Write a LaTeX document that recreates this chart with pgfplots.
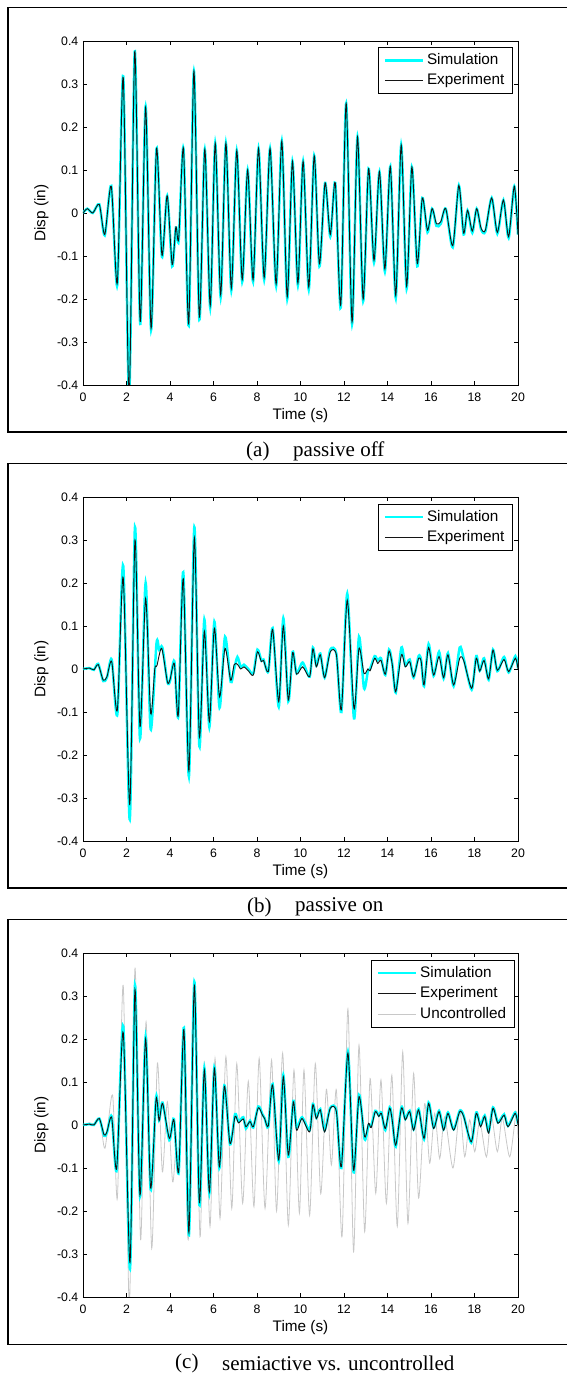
\documentclass[border=0pt]{standalone}
\usepackage{fontspec}
\usepackage{pgfplots}
\usepackage{pgfplotstable}
\pgfplotsset{compat=1.18}
\newfontfamily\sansfnt{Liberation Sans}
\newfontfamily\serffnt{Liberation Serif}
\newcommand\tickfont{\sansfnt\fontsize{12.3}{14}\selectfont}
\newcommand\labfont{\sansfnt\fontsize{15.3}{17}\selectfont}
\newcommand\capfont{\serffnt\fontsize{21}{24}\selectfont}
\definecolor{simc}{RGB}{0,255,255}
\definecolor{uncc}{RGB}{200,200,200}
\definecolor{expc}{RGB}{20,20,20}

% ---------------- panel (a): passive off ----------------
\pgfplotstableread{
t v
0 0
0.2 0.01
0.45 0.0
0.75 0.02
1.0 -0.05
1.3 0.062
1.58 -0.162
1.85 0.315
2.12 -0.43
2.38 0.376
2.63 -0.252
2.88 0.246
3.13 -0.268
3.38 0.15
3.63 -0.098
3.87 0.04
4.1 -0.12
4.27 -0.032
4.4 -0.06
4.62 0.15
4.86 -0.258
5.1 0.33
5.35 -0.242
5.6 0.148
5.85 -0.215
6.08 0.162
6.33 -0.19
6.57 0.162
6.82 -0.175
7.07 0.145
7.32 -0.155
7.57 0.1
7.82 -0.155
8.07 0.15
8.33 -0.15
8.6 0.15
8.88 -0.165
9.14 0.167
9.39 -0.195
9.63 0.12
9.88 -0.163
10.12 0.12
10.38 -0.172
10.63 0.133
10.87 -0.118
11.13 0.07
11.37 -0.05
11.6 0.07
11.85 -0.214
12.1 0.255
12.37 -0.253
12.62 0.177
12.88 -0.2
13.13 0.103
13.38 -0.11
13.63 0.096
13.88 -0.13
14.13 0.108
14.38 -0.192
14.63 0.158
14.88 -0.17
15.12 0.107
15.37 -0.118
15.6 0.035
15.84 -0.04
16.05 0.01
16.25 -0.025
16.45 -0.02
16.68 0.01
17.0 -0.076
17.28 0.064
17.5 -0.047
17.68 0.006
17.9 -0.042
18.1 0.01
18.3 -0.035
18.5 -0.04
18.79 0.035
19.05 -0.045
19.33 0.03
19.57 -0.055
19.83 0.062
20 -0.05
}\expa
\pgfplotstableread{
t v
0 0
0.2 0.01
0.45 0.0
0.75 0.02
1.0 -0.052
1.3 0.063
1.58 -0.167
1.85 0.318
2.12 -0.43
2.38 0.376
2.63 -0.258
2.88 0.248
3.13 -0.272
3.38 0.15
3.63 -0.102
3.87 0.04
4.1 -0.124
4.27 -0.034
4.4 -0.064
4.62 0.15
4.86 -0.262
5.1 0.33
5.35 -0.248
5.6 0.148
5.85 -0.22
6.08 0.162
6.33 -0.196
6.57 0.162
6.82 -0.18
7.07 0.145
7.32 -0.16
7.57 0.1
7.82 -0.16
8.07 0.15
8.33 -0.155
8.6 0.15
8.88 -0.17
9.14 0.167
9.39 -0.2
9.63 0.12
9.88 -0.168
10.12 0.12
10.38 -0.178
10.63 0.133
10.87 -0.124
11.13 0.07
11.37 -0.055
11.6 0.07
11.85 -0.22
12.1 0.255
12.37 -0.258
12.62 0.177
12.88 -0.205
13.13 0.103
13.38 -0.115
13.63 0.096
13.88 -0.136
14.13 0.108
14.38 -0.198
14.63 0.158
14.88 -0.176
15.12 0.107
15.37 -0.124
15.6 0.035
15.84 -0.045
16.05 0.01
16.25 -0.03
16.45 -0.025
16.68 0.01
17.0 -0.08
17.28 0.064
17.5 -0.05
17.68 0.006
17.9 -0.046
18.1 0.01
18.3 -0.038
18.5 -0.043
18.79 0.035
19.05 -0.048
19.33 0.03
19.57 -0.058
19.83 0.062
20 -0.05
}\sima

% ---------------- panel (b): passive on ----------------
\pgfplotstableread{
t v
0 0
0.3 0.002
0.5 -0.002
0.7 0.01
0.93 -0.026
1.1 -0.018
1.32 0.017
1.58 -0.095
1.85 0.212
2.15 -0.315
2.39 0.30
2.62 -0.134
2.88 0.164
3.11 -0.103
3.3 0.0
3.4 0.008
3.62 0.048
3.88 -0.03
4.0 -0.025
4.2 0.012
4.38 -0.107
4.61 0.21
4.87 -0.237
5.12 0.305
5.35 -0.157
5.58 0.088
5.81 -0.122
6.04 0.095
6.28 -0.065
6.53 0.048
6.79 -0.026
6.95 0.01
7.1 0.011
7.25 0.0
7.4 0.005
7.6 -0.004
7.83 -0.014
8.02 0.04
8.2 0.017
8.3 0.02
8.52 -0.006
8.72 0.092
9.0 -0.076
9.21 0.1
9.44 -0.072
9.64 0.038
9.82 -0.012
10.1 0.005
10.42 -0.018
10.57 0.047
10.73 0.005
10.91 0.033
11.11 -0.02
11.37 0.04
11.65 0.033
11.88 -0.095
12.15 0.16
12.46 -0.092
12.69 0.048
12.92 -0.01
13.1 0.0
13.2 -0.004
13.41 0.025
13.55 0.013
13.7 0.02
13.9 -0.012
14.07 0.042
14.22 0.01
14.38 -0.053
14.64 0.033
14.82 0.005
15.02 0.017
15.2 -0.018
15.43 0.025
15.55 0.017
15.68 -0.037
15.89 0.05
16.12 -0.014
16.37 0.029
16.58 -0.02
16.78 0.033
17.04 -0.037
17.32 0.025
17.5 0.02
17.87 -0.045
18.08 0.025
18.24 -0.005
18.44 0.02
18.65 -0.023
18.85 0.044
19.05 -0.003
19.36 0.022
19.57 -0.006
19.88 0.025
20 0.0
}\expb
\pgfplotstableread{
t v
0 0
0.3 0.002
0.5 -0.002
0.7 0.012
0.93 -0.028
1.1 -0.02
1.32 0.022
1.58 -0.105
1.85 0.24
2.15 -0.35
2.39 0.33
2.62 -0.162
2.88 0.2
3.11 -0.14
3.38 0.06
3.5 0.045
3.65 0.05
3.88 -0.03
4.0 -0.028
4.2 0.018
4.38 -0.11
4.61 0.225
4.87 -0.25
5.12 0.33
5.35 -0.18
5.58 0.115
5.81 -0.135
6.04 0.11
6.28 -0.09
6.53 0.075
6.79 -0.03
6.95 0.0
7.1 0.028
7.25 0.005
7.4 0.01
7.6 0.0
7.83 -0.01
8.02 0.045
8.2 0.02
8.3 0.022
8.52 -0.006
8.72 0.095
9.0 -0.088
9.21 0.118
9.44 -0.075
9.64 0.04
9.82 -0.01
10.1 0.015
10.42 -0.018
10.57 0.05
10.73 0.008
10.91 0.036
11.11 -0.02
11.37 0.045
11.65 0.035
11.88 -0.1
12.15 0.175
12.46 -0.115
12.69 0.075
12.92 -0.045
13.1 -0.005
13.2 0.0
13.41 0.03
13.55 0.02
13.7 0.025
13.9 -0.014
14.07 0.045
14.22 0.012
14.38 -0.055
14.64 0.05
14.82 0.008
15.02 0.022
15.2 -0.02
15.43 0.03
15.55 0.02
15.68 -0.04
15.89 0.058
16.12 -0.016
16.37 0.04
16.58 -0.022
16.78 0.037
17.04 -0.04
17.32 0.05
17.5 0.025
17.87 -0.048
18.08 0.03
18.24 -0.004
18.44 0.025
18.65 -0.025
18.85 0.045
19.05 -0.005
19.36 0.028
19.57 -0.008
19.88 0.03
20 0.002
}\simb

% ---------------- panel (c): semiactive vs uncontrolled ----------------
\pgfplotstableread{
t v
0 0
0.3 0.002
0.5 0.0
0.75 0.015
0.97 -0.023
1.1 -0.016
1.32 0.017
1.55 -0.1
1.85 0.215
2.16 -0.32
2.39 0.315
2.62 -0.163
2.88 0.2
3.11 -0.146
3.36 0.06
3.5 0.01
3.66 0.05
3.97 -0.031
4.18 0.012
4.4 -0.108
4.64 0.222
4.87 -0.25
5.12 0.325
5.35 -0.18
5.58 0.128
5.81 -0.155
6.04 0.132
6.27 -0.097
6.5 0.09
6.76 -0.043
6.99 0.02
7.15 0.005
7.37 0.014
7.49 -0.004
7.68 0.008
7.83 -0.004
8.06 0.04
8.25 0.023
8.35 0.015
8.52 -0.002
8.72 0.093
9.0 -0.081
9.21 0.112
9.44 -0.07
9.67 0.054
9.82 -0.012
10.07 0.015
10.42 -0.016
10.57 0.047
10.73 0.015
10.91 0.035
11.11 -0.016
11.37 0.039
11.65 0.031
11.88 -0.097
12.18 0.167
12.44 -0.105
12.69 0.066
12.95 -0.027
13.13 0.004
13.25 -0.006
13.44 0.031
13.6 0.02
13.72 0.027
13.9 -0.008
14.1 0.039
14.22 0.01
14.38 -0.047
14.64 0.039
14.82 0.012
15.02 0.031
15.2 -0.012
15.43 0.035
15.68 -0.031
15.89 0.05
16.12 -0.008
16.37 0.031
16.58 -0.012
16.78 0.027
17.04 -0.012
17.32 0.031
17.5 0.02
17.85 -0.039
18.08 0.027
18.28 -0.004
18.47 0.02
18.65 -0.019
18.85 0.039
19.08 0.004
19.36 0.023
19.54 -0.004
19.87 0.027
20 0.0
}\expc
\pgfplotstableread{
t v
0 0
0.3 0.002
0.5 0.0
0.75 0.015
0.97 -0.025
1.1 -0.018
1.32 0.02
1.55 -0.104
1.85 0.23
2.16 -0.335
2.39 0.325
2.62 -0.166
2.88 0.205
3.11 -0.15
3.36 0.065
3.5 0.012
3.66 0.052
3.97 -0.035
4.18 0.014
4.4 -0.11
4.64 0.226
4.87 -0.256
5.12 0.333
5.35 -0.186
5.58 0.132
5.81 -0.158
6.04 0.134
6.27 -0.1
6.5 0.092
6.76 -0.045
6.99 0.025
7.15 0.008
7.37 0.018
7.49 -0.008
7.68 0.01
7.83 -0.006
8.06 0.043
8.25 0.025
8.35 0.016
8.52 -0.004
8.72 0.095
9.0 -0.084
9.21 0.116
9.44 -0.074
9.67 0.056
9.82 -0.006
10.07 0.018
10.42 -0.012
10.57 0.049
10.73 0.017
10.91 0.037
11.11 -0.012
11.37 0.04
11.65 0.033
11.88 -0.1
12.18 0.17
12.44 -0.11
12.69 0.07
12.95 -0.033
13.13 0.0
13.25 -0.002
13.44 0.033
13.6 0.022
13.72 0.029
13.9 -0.012
14.1 0.041
14.22 0.012
14.38 -0.05
14.64 0.041
14.82 0.014
15.02 0.033
15.2 -0.01
15.43 0.037
15.68 -0.033
15.89 0.052
16.12 -0.006
16.37 0.033
16.58 -0.01
16.78 0.029
17.04 -0.01
17.32 0.033
17.5 0.022
17.85 -0.041
18.08 0.029
18.28 0.0
18.47 0.022
18.65 -0.015
18.85 0.041
19.08 0.006
19.36 0.025
19.54 -0.002
19.87 0.029
20 0.002
}\simc
\pgfplotstableread{
t v
0 0
0.3 0.005
0.5 0.003
0.78 0.015
1.01 -0.054
1.36 0.07
1.58 -0.17
1.85 0.325
2.13 -0.42
2.39 0.365
2.65 -0.267
2.9 0.24
3.16 -0.287
3.42 0.143
3.65 -0.109
3.88 0.054
4.12 -0.132
4.28 -0.05
4.4 -0.1
4.62 0.15
4.84 -0.267
5.1 0.33
5.38 -0.26
5.58 0.145
5.84 -0.236
6.07 0.155
6.3 -0.217
6.57 0.159
6.84 -0.194
7.07 0.143
7.34 -0.182
7.6 0.102
7.86 -0.19
8.1 0.155
8.37 -0.194
8.67 0.151
8.9 -0.2
9.18 0.167
9.44 -0.233
9.7 0.128
9.95 -0.205
10.16 0.128
10.42 -0.21
10.68 0.143
10.93 -0.16
11.19 0.083
11.42 -0.093
11.65 0.081
11.91 -0.26
12.18 0.27
12.44 -0.295
12.69 0.186
12.95 -0.248
13.2 0.108
13.46 -0.159
13.7 0.105
13.95 -0.182
14.2 0.116
14.45 -0.236
14.7 0.17
14.94 -0.229
15.2 0.12
15.43 -0.17
15.71 0.05
15.94 -0.089
16.17 0.027
16.4 -0.078
16.63 0.019
17.01 -0.1
17.32 0.035
17.55 -0.074
17.78 0.012
18.01 -0.062
18.24 0.008
18.55 -0.074
18.77 0.023
19.05 -0.062
19.28 0.016
19.62 -0.074
19.92 0.031
20 -0.03
}\uncc

\pgfplotsset{
  matlab/.style={
    scale only axis, width=435pt, height=344pt, anchor=south west,
    xmin=0, xmax=20, ymin=-0.4, ymax=0.4,
    xtick={0,2,4,6,8,10,12,14,16,18,20},
    xticklabels={0,2,4,6,8,10,12,14,16,18,20},
    ytick={-0.4,-0.3,-0.2,-0.1,0,0.1,0.2,0.3,0.4},
    yticklabels={-0.4,-0.3,-0.2,-0.1,0,0.1,0.2,0.3,0.4},
    tick align=inside, xtick pos=both, ytick pos=both,
    major tick length=4pt,
    axis line style={line width=0.8pt},
    every tick/.style={black, line width=0.6pt},
    xticklabel style={font=\tickfont, anchor=center, yshift=-12.5pt},
    yticklabel style={font=\tickfont, anchor=east, inner sep=0pt, xshift=-4.5pt},
    xlabel={Time (s)}, ylabel={Disp (in)},
    every axis x label/.style={at={(axis description cs:0.5,-0.090)}, anchor=center, font=\labfont},
    every axis y label/.style={at={(axis description cs:-0.0954,0.5)}, rotate=90, anchor=center, font=\labfont},
    legend image code/.code={\draw[##1] (0pt,0pt) -- (38pt,0pt);},
    legend cell align=left,
    legend style={draw=black, line width=0.8pt, fill=white, font=\labfont,
      inner xsep=5pt, inner ysep=4.45pt, row sep=3.4pt,
      nodes={inner xsep=3pt, inner ysep=1.5pt, text height=11pt, text depth=3pt}},
  },
  simline/.style={simc, line width=2.5pt, smooth, tension=0.45},
  expline/.style={expc, line width=0.9pt, smooth, tension=0.45},
  uncline/.style={uncc, line width=0.8pt, smooth, tension=0.45},
}

\begin{document}
\begin{tikzpicture}[x=1pt,y=1pt]
\useasboundingbox (0,0) rectangle (567,1374);
% frames
\draw[line width=1.2pt] (8,942) rectangle (572,1366.7);
\draw[line width=1.2pt] (8,486) rectangle (572,910.5);
\draw[line width=1.2pt] (8,29.5) rectangle (572,454.5);
% captions
\node[anchor=west, inner sep=0pt, font=\capfont] at (246,923) {(a)};
\node[anchor=west, inner sep=0pt, font=\capfont] at (293,923) {passive off};
\node[anchor=west, inner sep=0pt, font=\capfont] at (247,467) {(b)};
\node[anchor=west, inner sep=0pt, font=\capfont] at (295,467) {passive on};
\node[anchor=west, inner sep=0pt, font=\capfont] at (175,11) {(c)};
\node[anchor=west, inner sep=0pt, font=\capfont] at (222,11) {semiactive vs. uncontrolled};

\begin{axis}[matlab, at={(83pt,989pt)},
  legend style={at={(0.988,0.982)}, anchor=north east}]
  \addplot[simline] table {\sima};
  \addplot[expline] table {\expa};
  \legend{Simulation,Experiment}
\end{axis}

\begin{axis}[matlab, at={(83pt,533pt)},
  legend style={at={(0.988,0.980)}, anchor=north east}]
  \addplot[simline] table {\simb};
  \addplot[expline] table {\expb};
  \legend{Simulation,Experiment}
\end{axis}

\begin{axis}[matlab, at={(83pt,77pt)},
  legend style={at={(0.992,0.980)}, anchor=north east}]
  \addplot[uncline, forget plot] table {\uncc};
  \addplot[simline] table {\simc};
  \addplot[expline] table {\expc};
  \addlegendimage{uncline}
  \legend{Simulation,Experiment,Uncontrolled}
\end{axis}
\end{tikzpicture}
\end{document}
